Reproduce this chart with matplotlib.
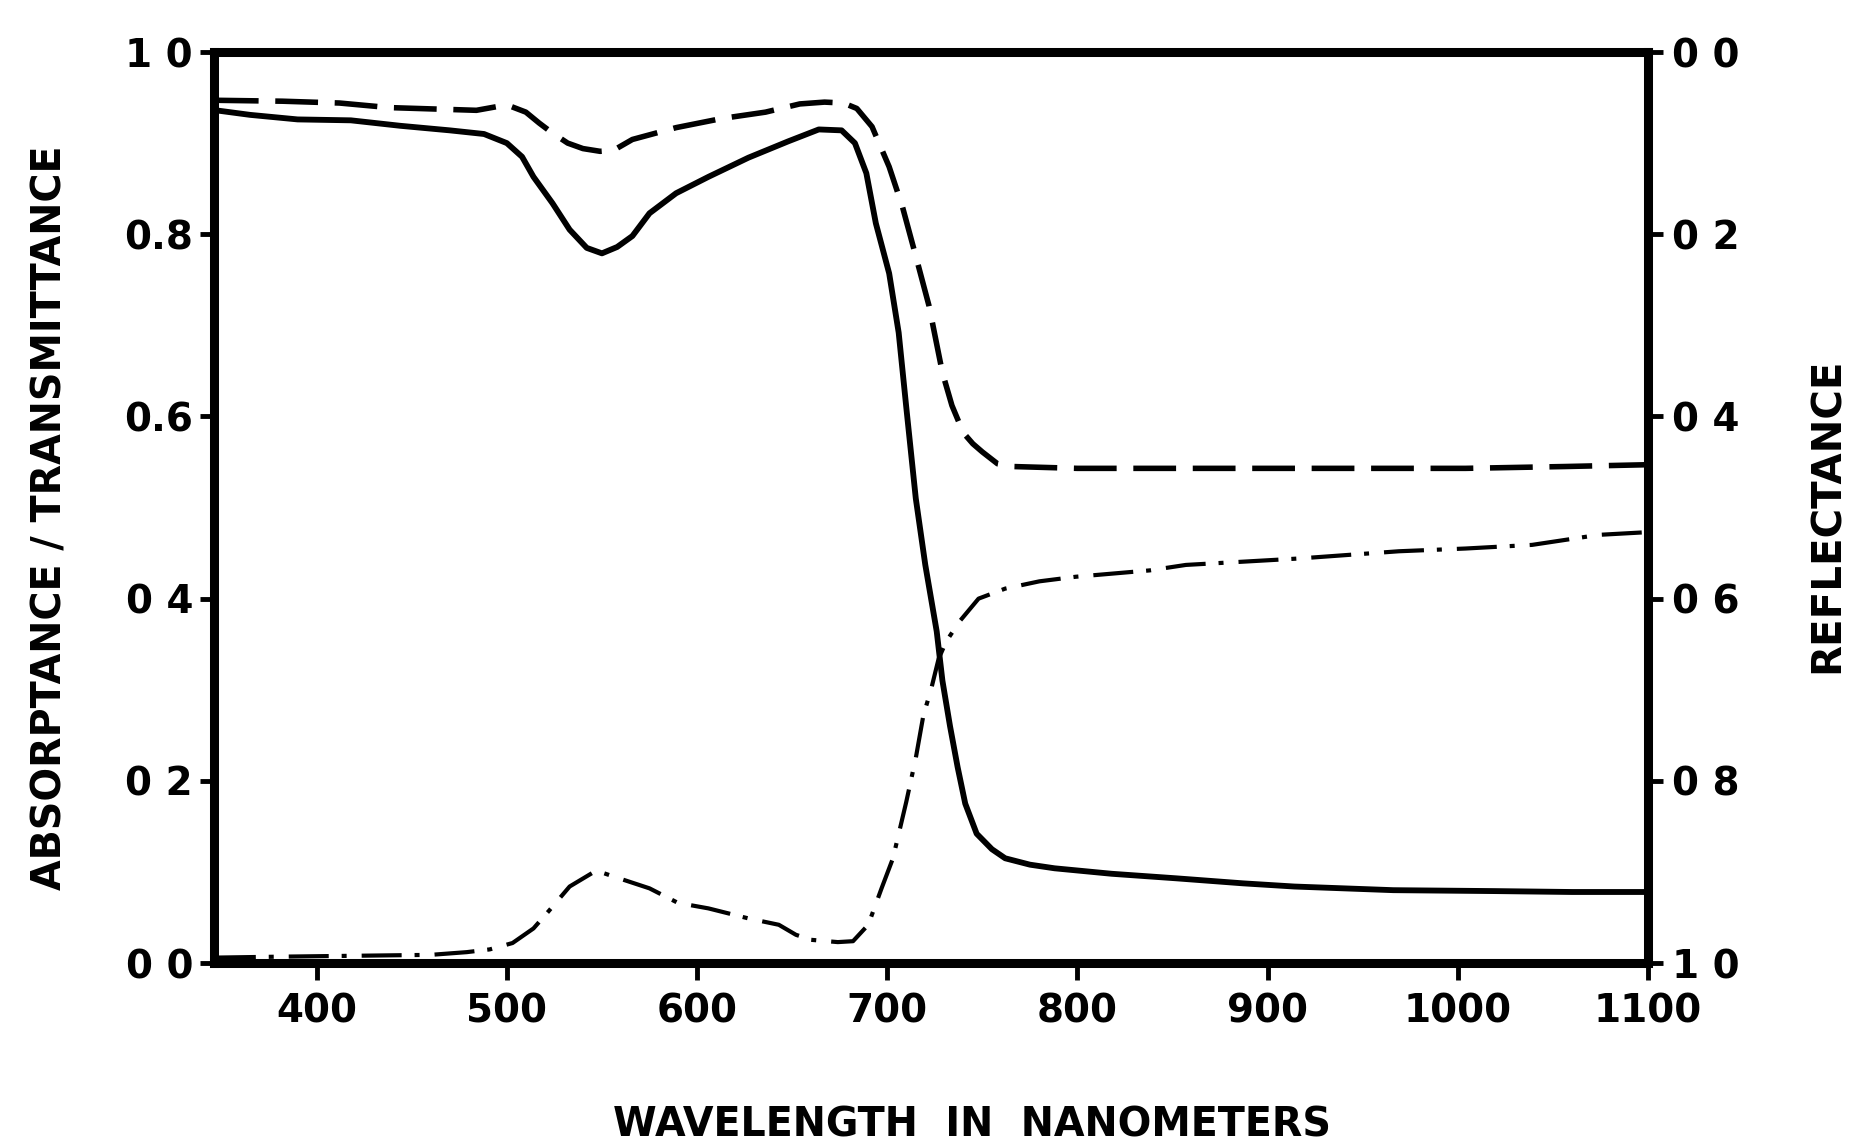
import matplotlib
matplotlib.use("Agg")
import matplotlib.pyplot as plt

# ---- data ----
solid_nm = [347, 365, 390, 418, 444, 470, 488, 500, 508, 514, 524, 533, 542, 550, 558,
            566, 575, 589, 606, 627, 648, 664, 676, 683, 689, 694, 701, 706, 710, 715,
            720, 726, 729, 733, 737, 741, 747, 755, 762, 775, 788, 818, 852, 887, 914,
            940, 966, 1019, 1060, 1100]
solid_val = [0.936, 0.931, 0.926, 0.925, 0.919, 0.914, 0.910, 0.900, 0.885, 0.863, 0.834,
             0.805, 0.785, 0.779, 0.786, 0.798, 0.823, 0.845, 0.863, 0.884, 0.902, 0.915,
             0.914, 0.900, 0.867, 0.812, 0.757, 0.692, 0.610, 0.510, 0.437, 0.364, 0.310,
             0.260, 0.215, 0.175, 0.142, 0.125, 0.115, 0.108, 0.104, 0.098, 0.093, 0.0875,
             0.084, 0.082, 0.080, 0.079, 0.078, 0.078]

dashed_nm = [347, 382, 412, 438, 461, 484, 500, 510, 517, 524, 532, 540, 549, 556, 566,
             589, 613, 636, 654, 667, 677, 684, 692, 701, 708, 715, 722, 729, 734, 740,
             745, 750, 758, 766, 800, 864, 916, 1004, 1056, 1100]
dashed_val = [0.947, 0.946, 0.944, 0.939, 0.9375, 0.936, 0.942, 0.934, 0.922, 0.911, 0.900,
              0.894, 0.891, 0.892, 0.904, 0.917, 0.927, 0.934, 0.943, 0.945, 0.944, 0.938,
              0.918, 0.874, 0.830, 0.776, 0.721, 0.648, 0.612, 0.582, 0.570, 0.561, 0.548,
              0.545, 0.543, 0.543, 0.543, 0.543, 0.545, 0.547]

dashdot_nm = [347, 380, 420, 460, 479, 491, 503, 514, 522, 533, 545, 549, 559, 575, 590,
              606, 627, 643, 652, 660, 674, 682, 690, 697, 703, 710, 715, 719, 723, 727,
              731, 738, 748, 762, 780, 799, 838, 857, 916, 969, 1004, 1039, 1074, 1100]
dashdot_val = [0.006, 0.007, 0.008, 0.009, 0.012, 0.015, 0.022, 0.038, 0.057, 0.084, 0.099,
               0.100, 0.093, 0.082, 0.066, 0.060, 0.049, 0.042, 0.031, 0.0255, 0.023, 0.024,
               0.042, 0.082, 0.115, 0.177, 0.225, 0.272, 0.300, 0.334, 0.353, 0.375, 0.400,
               0.411, 0.419, 0.424, 0.431, 0.437, 0.444, 0.452, 0.455, 0.459, 0.470, 0.473]

x_ticks = [400, 500, 600, 700, 800, 900, 1000, 1100]
x_ticklabels = ["400", "500", "600", "700", "800", "900", "1000", "1100"]
left_ticks = [0.0, 0.2, 0.4, 0.6, 0.8, 1.0]
left_ticklabels = ["0 0", "0 2", "0 4", "0.6", "0.8", "1 0"]
right_ticks = [0.0, 0.2, 0.4, 0.6, 0.8, 1.0]
right_ticklabels = ["0 0", "0 2", "0 4", "0 6", "0 8", "1 0"]

x_label = "WAVELENGTH  IN  NANOMETERS"
left_label = "ABSORPTANCE / TRANSMITTANCE"
right_label = "REFLECTANCE"

# ---- figure ----
plt.rcParams['font.family'] = ['DejaVu Sans']
fig = plt.figure(figsize=(18.57, 11.48), dpi=100)
ax = fig.add_axes([0.1152, 0.1611, 0.8875 - 0.1152, 0.9547 - 0.1611])

ax.plot(solid_nm, solid_val, color="black", lw=4.2, solid_joinstyle="round")
ax.plot(dashed_nm, dashed_val, color="black", lw=4.0, linestyle=(0, (7.7, 3.0)))
ax.plot(dashdot_nm, dashdot_val, color="black", lw=3.0,
        linestyle=(0, (9.6, 3.1, 1.2, 3.6)))

ax.set_xlim(346, 1100)
ax.set_ylim(0, 1.0)
ax.set_xticks(x_ticks)
ax.set_xticklabels(x_ticklabels, fontweight="bold")
ax.set_yticks(left_ticks)
ax.set_yticklabels(left_ticklabels, fontweight="bold")

for s in ax.spines.values():
    s.set_linewidth(6.5)
ax.tick_params(axis="x", direction="out", length=12, width=3.5, pad=9, labelsize=28)
ax.tick_params(axis="y", direction="out", length=10, width=3.5, pad=5, labelsize=28)

ax2 = ax.twinx()
ax2.set_ylim(1.0, 0.0)
ax2.set_yticks(right_ticks)
ax2.set_yticklabels(right_ticklabels, fontweight="bold")
for s in ax2.spines.values():
    s.set_visible(False)
ax2.tick_params(axis="y", direction="out", length=11, width=3.5, pad=6, labelsize=28)

fig.text(0.5234, 0.020, x_label, ha="center", va="center", fontsize=28.5,
         fontweight="bold")
fig.text(0.027, 0.549, left_label, ha="center", va="center", rotation=90,
         fontsize=28.5, fontweight="bold")
fig.text(0.984, 0.551, right_label, ha="center", va="center", rotation=90,
         fontsize=29, fontweight="bold")

fig.savefig("out.png", dpi=100, facecolor="white")
